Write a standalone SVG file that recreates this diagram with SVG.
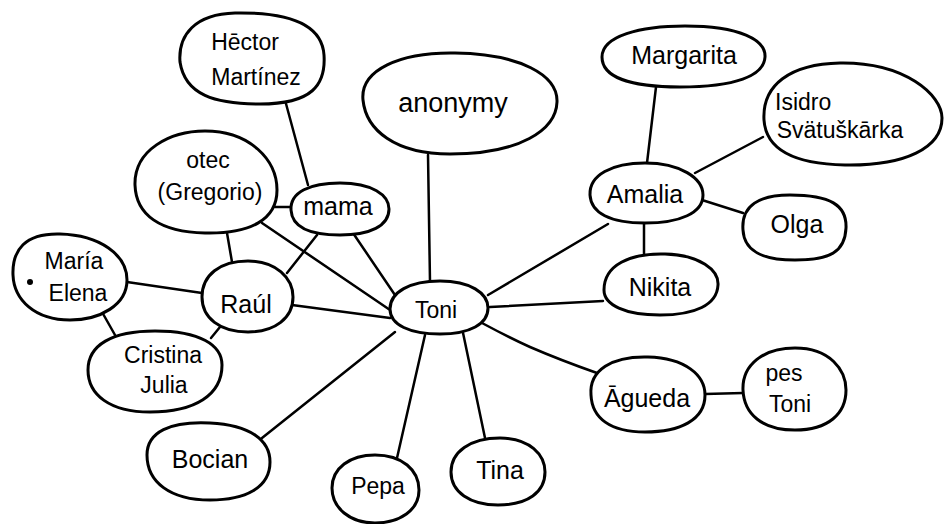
<svg xmlns="http://www.w3.org/2000/svg" width="945" height="524" viewBox="0 0 945 524">
<style>
  .blob { fill: #fff; stroke: #000; stroke-width: 3; stroke-linejoin: round; }
  .edge { fill: none; stroke: #000; stroke-width: 2.5; stroke-linecap: round; }
  text { font-family: "Liberation Sans", "DejaVu Sans", sans-serif; font-size: 23px; fill: #000; text-anchor: middle; }
  .big { font-size: 27px; }
  .mid { font-size: 25px; }
</style>
<rect width="945" height="524" fill="#fff"/>
<g id="connectors">
  <path class="edge" d="M285,100 L308,185"/>
  <path class="edge" d="M428,155 L430,282"/>
  <path class="edge" d="M656,87 L647,163"/>
  <path class="edge" d="M763,137 L695,173"/>
  <path class="edge" d="M702,200 L743,213"/>
  <path class="edge" d="M644,223 L644,255"/>
  <path class="edge" d="M608,224 L488,295"/>
  <path class="edge" d="M603,301 L490,307"/>
  <path class="edge" d="M482,323 Q510,338 530,347 Q560,360 597,373"/>
  <path class="edge" d="M705,394 L743,393"/>
  <path class="edge" d="M462,328 L485,438"/>
  <path class="edge" d="M425,335 L397,458"/>
  <path class="edge" d="M395,332 L262,438"/>
  <path class="edge" d="M390,318 L292,305"/>
  <path class="edge" d="M262,223 L393,312"/>
  <path class="edge" d="M353,233 L397,298"/>
  <path class="edge" d="M317,235 L287,273"/>
  <path class="edge" d="M227,233 L232,262"/>
  <path class="edge" d="M275,207 L292,207"/>
  <path class="edge" d="M127,282 L202,293"/>
  <path class="edge" d="M102,312 L115,335"/>
  <path class="edge" d="M220,327 L211,338"/>
</g>
<g id="hector">
  <path class="blob" d="M180,62 C178,35 195,14 235,13 C290,12 322,25 324,55 C326,85 312,104 260,104 C215,104 185,95 180,62 Z"/>
  <text x="245" y="50">Hēctor</text>
  <text x="256" y="85">Martínez</text>
</g>
<g id="anonymy">
  <path class="blob" d="M363,100 C360,70 400,52 455,53 C520,54 558,75 557,102 C556,130 520,154 450,154 C395,154 366,130 363,100 Z"/>
  <text class="big" x="453" y="112">anonymy</text>
</g>
<g id="margarita">
  <path class="blob" d="M602,57 C602,36 640,26 685,26 C740,26 766,40 765,57 C764,76 735,87 680,87 C630,87 602,77 602,57 Z"/>
  <text class="mid" x="684" y="64">Margarita</text>
</g>
<g id="isidro">
  <path class="blob" d="M764,120 C762,85 790,64 840,63 C905,62 942,95 942,118 C942,148 905,166 845,165 C795,164 766,150 764,120 Z"/>
  <text x="775" y="110" style="text-anchor:start">Isidro</text>
  <text x="840" y="138">Svätuškārka</text>
</g>
<g id="otec">
  <path class="blob" d="M135,185 C134,150 170,131 205,131 C250,131 277,160 277,190 C277,220 250,234 205,233 C160,232 136,215 135,185 Z"/>
  <text x="208" y="168">otec</text>
  <text x="210" y="200">(Gregorio)</text>
</g>
<g id="mama">
  <path class="blob" d="M291,210 C290,192 310,183 340,183 C372,183 389,195 389,209 C389,226 370,235 340,235 C308,235 292,226 291,210 Z"/>
  <text class="mid" x="338" y="215">mama</text>
</g>
<g id="amalia">
  <path class="blob" d="M590,195 C589,175 612,163 645,163 C680,163 703,178 703,195 C703,213 680,223 645,223 C610,223 591,213 590,195 Z"/>
  <text class="mid" x="645" y="203">Amalia</text>
</g>
<g id="olga">
  <path class="blob" d="M743,230 C741,205 760,195 790,195 C830,195 847,205 846,228 C845,252 830,260 795,260 C760,260 744,250 743,230 Z"/>
  <text class="mid" x="797" y="233">Olga</text>
</g>
<g id="nikita">
  <path class="blob" d="M604,290 C604,265 630,253 665,254 C700,255 719,270 718,285 C717,305 695,315 660,315 C625,315 604,305 604,290 Z"/>
  <text class="mid" x="660" y="296">Nikita</text>
</g>
<g id="toni">
  <path class="blob" d="M390,309 C390,292 410,281 440,281 C470,281 488,293 488,308 C488,324 470,334 440,334 C410,334 390,325 390,309 Z"/>
  <text x="436" y="318">Toni</text>
</g>
<g id="agueda">
  <path class="blob" d="M591,395 C589,370 612,356 648,357 C685,358 705,375 705,395 C705,420 680,432 645,432 C610,432 592,418 591,395 Z"/>
  <text class="mid" x="647" y="407">Āgueda</text>
</g>
<g id="pes-toni">
  <path class="blob" d="M743,390 C742,365 763,348 795,348 C830,348 846,370 846,390 C846,414 828,430 795,430 C762,430 744,414 743,390 Z"/>
  <text x="784" y="381">pes</text>
  <text x="790" y="412">Toni</text>
</g>
<g id="tina">
  <path class="blob" d="M451,472 C451,452 470,438 500,438 C530,438 545,455 545,472 C545,492 528,505 498,505 C470,505 451,492 451,472 Z"/>
  <text class="mid" x="500" y="479">Tina</text>
</g>
<g id="pepa">
  <path class="blob" d="M332,488 C332,468 350,455 375,455 C402,455 419,470 419,490 C419,510 400,523 375,523 C350,523 332,508 332,488 Z"/>
  <text x="378" y="494">Pepa</text>
</g>
<g id="bocian">
  <path class="blob" d="M147,455 C147,432 170,421 210,423 C250,425 270,440 270,462 C270,488 245,500 210,500 C170,500 147,482 147,455 Z"/>
  <text class="mid" x="210" y="468">Bocian</text>
</g>
<g id="cristina-julia">
  <path class="blob" d="M88,370 C88,345 112,331 155,331 C200,331 222,345 222,365 C222,395 195,412 150,412 C110,412 88,395 88,370 Z"/>
  <text x="163" y="363">Cristina</text>
  <text x="164" y="393">Julia</text>
</g>
<g id="raul">
  <path class="blob" d="M202,297 C202,275 220,261 248,261 C276,261 293,278 293,297 C293,318 275,332 248,332 C220,332 202,318 202,297 Z"/>
  <text class="mid" x="246" y="313">Raúl</text>
</g>
<g id="maria-elena">
  <path class="blob" d="M13,275 C12,250 25,233 60,234 C100,235 127,255 127,280 C127,305 100,320 70,320 C35,320 14,300 13,275 Z"/>
  <circle cx="30" cy="282" r="3" fill="#000"/>
  <text x="74" y="269">María</text>
  <text x="78" y="301">Elena</text>
</g>
</svg>
